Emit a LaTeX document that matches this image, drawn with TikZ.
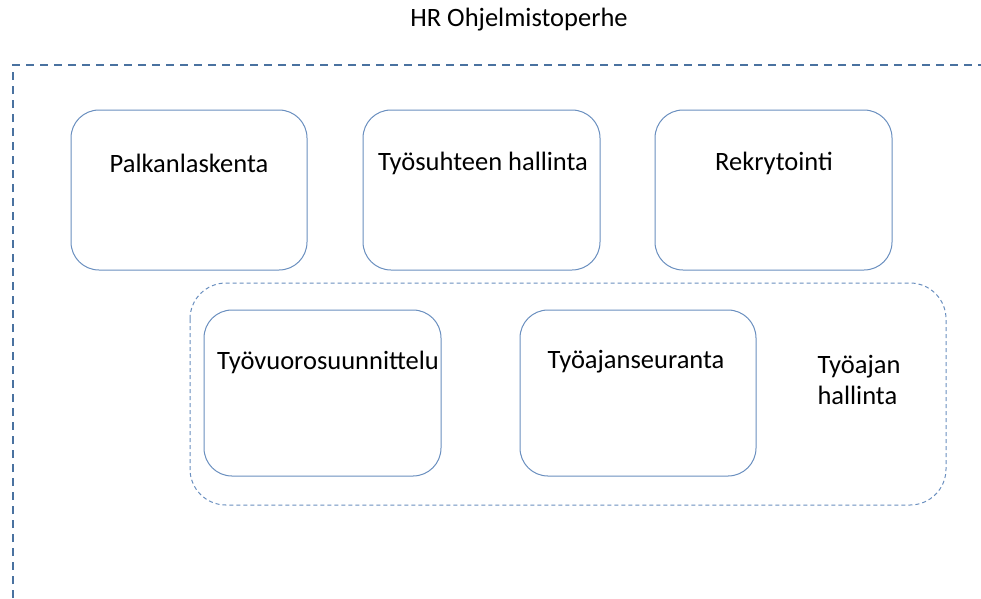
\documentclass[tikz,border=0pt]{standalone}
\usepackage{fontspec}
\setmainfont{Carlito}
\begin{document}
\begin{tikzpicture}[x=1pt,y=-1pt,
  every node/.style={font=\fontsize{26.5}{31}\selectfont, text=black, inner sep=0pt},
  frameline/.style={draw=framecol, line width=2pt, dash pattern=on 8pt off 6pt},
  groupline/.style={draw=boxcol, line width=1pt, dash pattern=on 4pt off 3pt, rounded corners=36pt},
  modbox/.style={draw=boxcol, line width=1pt, rounded corners=28pt}]
\definecolor{framecol}{HTML}{4A72A0}
\definecolor{boxcol}{HTML}{6A8FBF}
\useasboundingbox (0,0) rectangle (981,598);
% outer family frame
\coordinate (fb) at (13,598);
\coordinate (fc) at (13,65);
\coordinate (fr) at (981,65);
\draw[frameline] (fb) -- (fc) -- (fr);
\node (title) at (519,20) {HR Ohjelmistoperhe};
% top row modules
\draw[modbox] (71,110) rectangle (307,270);
\node (palk) at (189,163) {Palkanlaskenta};
\draw[modbox] (363,110) rectangle (600,270);
\node (tsuhde) at (483,163) {Työsuhteen hallinta};
\draw[modbox] (655,110) rectangle (892,270);
\node (rekry) at (774,163) {Rekrytointi};
% working time group
\draw[groupline] (190,283) rectangle (946,505);
\draw[modbox] (204,310) rectangle (441,476);
\node (tvs) at (328,362) {Työvuorosuunnittelu};
\draw[modbox] (520,310) rectangle (756,476);
\node (tas) at (636,362) {Työajanseuranta};
\node[align=left] (tah) at (859,380) {Työajan\\hallinta};
\end{tikzpicture}
\end{document}
